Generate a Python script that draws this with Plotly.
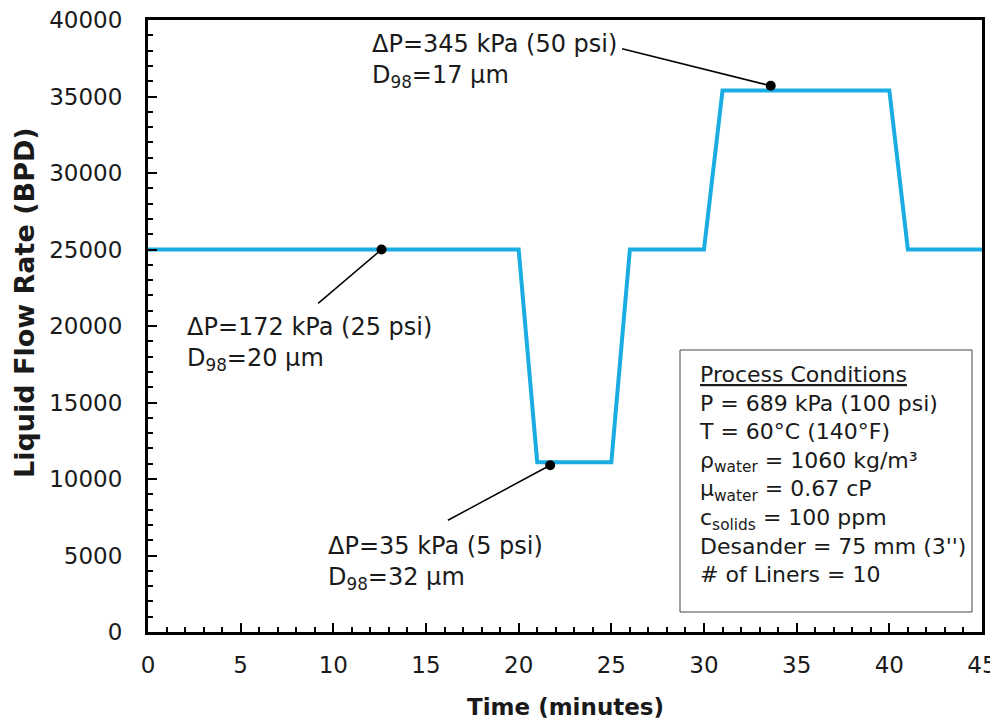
import plotly.graph_objects as go

time_min = [0, 20, 21, 25, 26, 30, 31, 40, 41, 45]
flow_bpd = [25000, 25000, 11100, 11100, 25000, 25000, 35400, 35400, 25000, 25000]

pt_x = [12.6, 21.7, 33.6]
pt_y = [25000, 10900, 35700]

labels = [
    "ΔP=172 kPa (25 psi)<br>D<sub>98</sub>=20 µm",
    "ΔP=35 kPa (5 psi)<br>D<sub>98</sub>=32 µm",
    "ΔP=345 kPa (50 psi)<br>D<sub>98</sub>=17 µm",
]
label_x = [2.0, 9.6, 12.0]
label_y = [18800, 4500, 37300]
tail_x = [9.1, 16.1, 25.5]
tail_y = [21400, 7250, 38150]

conditions = [
    "<u>Process Conditions</u>",
    "P = 689 kPa (100 psi)",
    "T = 60°C (140°F)",
    "ρ<sub>water</sub> = 1060 kg/m³",
    "µ<sub>water</sub> = 0.67 cP",
    "c<sub>solids</sub> = 100 ppm",
    "Desander = 75 mm (3'')",
    "# of Liners = 10",
]

FONT = "DejaVu Sans, sans-serif"
LINE = "#1AADE3"
TXT = "#1a1a1a"

# page body has an ~8px margin: figure is shrunk so the plot area lands
# at x 148..982, y 20..632 in the window
W, H = 990, 717
ML, MR, MT, MB = 140, 16, 12, 93
PW, PH = W - ML - MR, H - MT - MB

fig = go.Figure()
fig.add_trace(go.Scatter(x=time_min, y=flow_bpd, mode="lines",
                         line=dict(color=LINE, width=4), showlegend=False,
                         hoverinfo="skip"))
fig.add_trace(go.Scatter(x=pt_x, y=pt_y, mode="markers",
                         marker=dict(color="black", size=10), showlegend=False))

for i in range(3):
    fig.add_annotation(x=pt_x[i], y=pt_y[i], ax=tail_x[i], ay=tail_y[i],
                       axref="x", ayref="y", xref="x", yref="y",
                       text="", showarrow=True, arrowhead=0, arrowwidth=1.5,
                       arrowcolor="black", standoff=0, startstandoff=0)
    fig.add_annotation(x=label_x[i], y=label_y[i], xref="x", yref="y",
                       text=labels[i], showarrow=False, xanchor="left",
                       yanchor="middle", align="left",
                       font=dict(size=24, color=TXT, family=FONT))

def px_x(p):  # window pixel -> paper x
    return (p - 8 - ML) / PW

def px_y(p):  # window pixel -> paper y
    return (H - MB - (p - 8)) / PH

fig.add_shape(type="rect", xref="paper", yref="paper",
              x0=px_x(680), x1=px_x(972), y0=px_y(612), y1=px_y(350),
              line=dict(color="#444", width=1), fillcolor="white", layer="above")
fig.add_annotation(x=px_x(697), y=px_y(360), xref="paper", yref="paper",
                   text="<br>".join(conditions), showarrow=False,
                   xanchor="left", yanchor="top", align="left",
                   font=dict(size=22, color=TXT, family=FONT))

axis_common = dict(showgrid=False, zeroline=False, showline=True, mirror=True,
                   linecolor="black", linewidth=3, ticks="inside", ticklen=9,
                   tickwidth=2, tickcolor="black", automargin=False,
                   tickformat="d", ticklabeloverflow="allow",
                   tickfont=dict(size=23, color=TXT, family=FONT))

fig.update_xaxes(range=[0, 45], dtick=5, tick0=0, ticklabelstandoff=10,
                 minor=dict(dtick=1, ticks="inside", ticklen=5, tickwidth=1.5,
                            tickcolor="black"),
                 **axis_common)
fig.update_yaxes(range=[0, 40000], dtick=5000, tick0=0, ticklabelstandoff=18,
                 minor=dict(dtick=1000, ticks="inside", ticklen=5, tickwidth=1.5,
                            tickcolor="black"),
                 **axis_common)

fig.add_annotation(xref="paper", yref="paper", x=px_x(565), y=px_y(707),
                   text="<b>Time (minutes)</b>", showarrow=False,
                   xanchor="center", yanchor="middle",
                   font=dict(size=23, color=TXT, family=FONT))
fig.add_annotation(xref="paper", yref="paper", x=px_x(24), y=px_y(303),
                   text="<b>Liquid Flow Rate (BPD)</b>", showarrow=False,
                   textangle=-90, xanchor="center", yanchor="middle",
                   font=dict(size=27, color=TXT, family=FONT))

fig.update_layout(width=W, height=H, plot_bgcolor="white",
                  paper_bgcolor="white",
                  margin=dict(l=ML, r=MR, t=MT, b=MB))

fig.write_html("out.html")
